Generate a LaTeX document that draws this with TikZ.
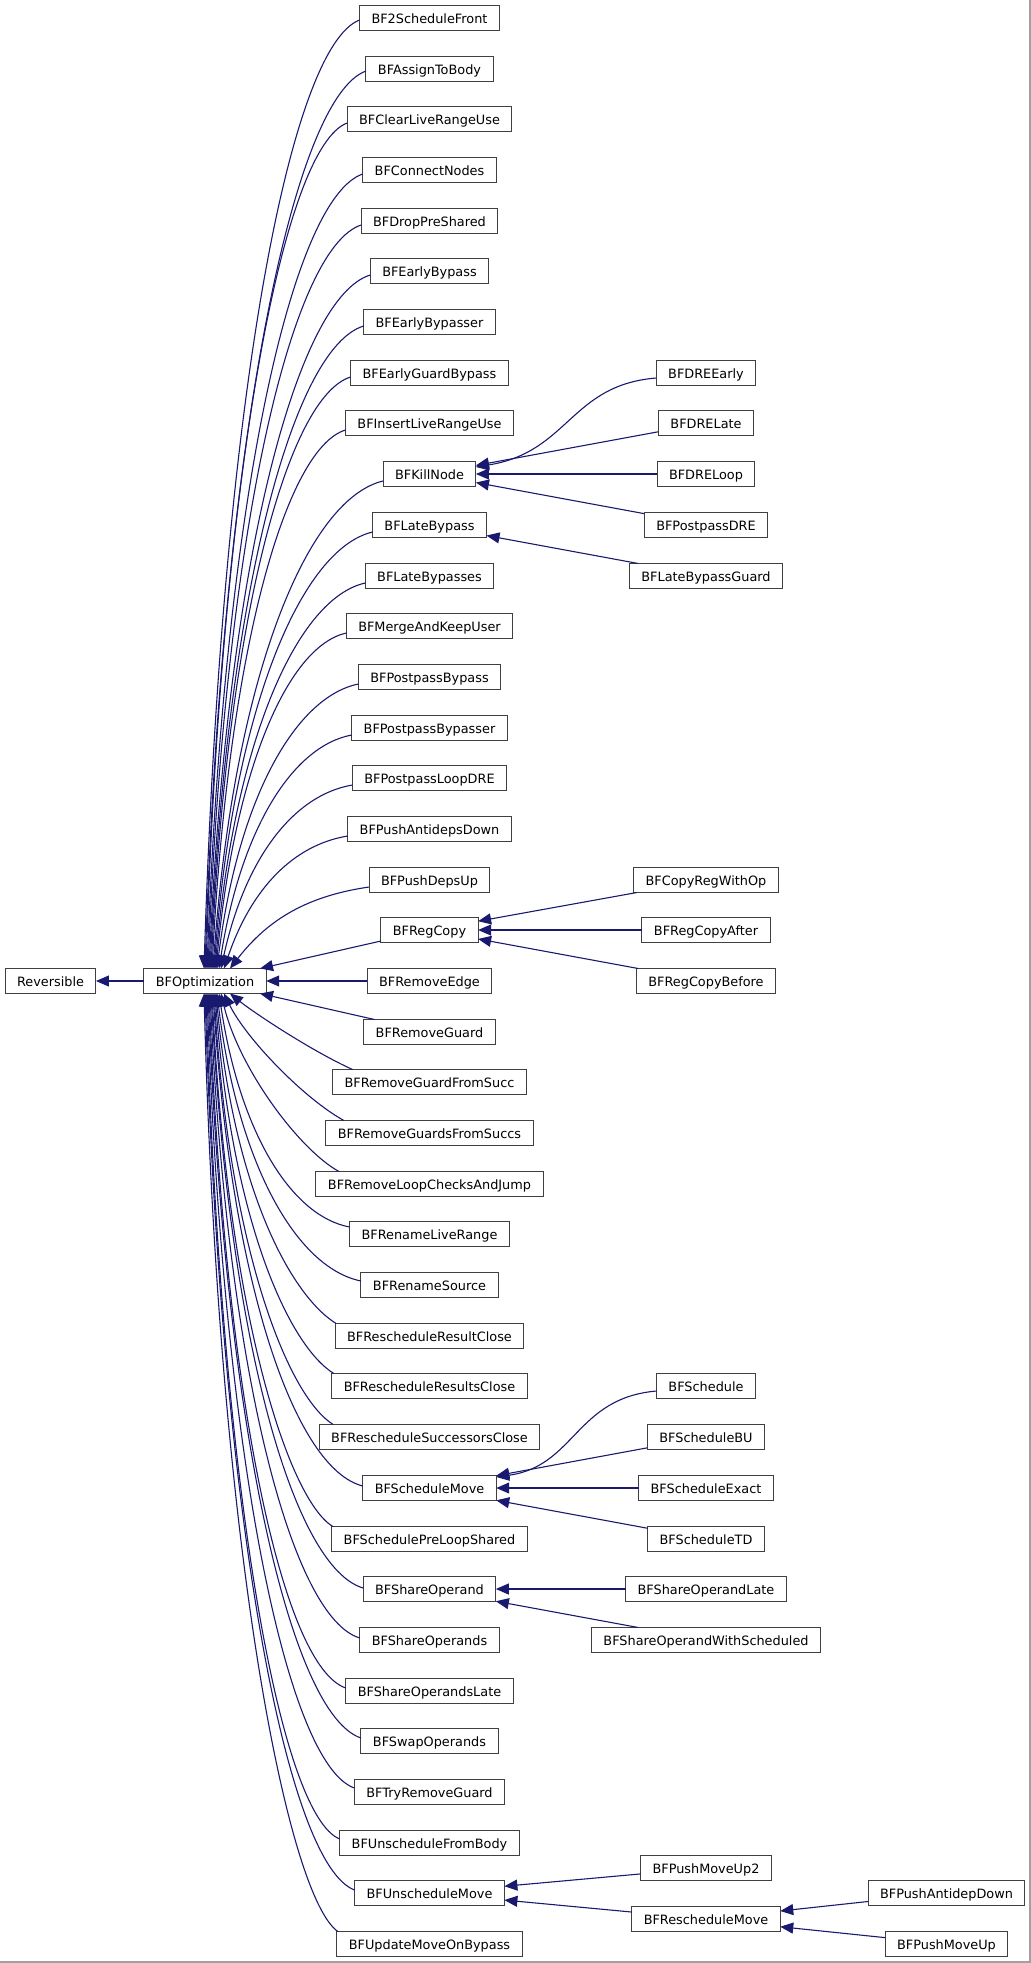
\documentclass[tikz,border=0pt]{standalone}
\usepackage{fontspec}
\setmainfont{DejaVu Sans}
\usetikzlibrary{arrows.meta,calc}
\definecolor{navyline}{HTML}{191970}
\definecolor{grey25}{HTML}{404040}
\definecolor{framegray}{HTML}{A0A0A0}
\tikzset{
  cls/.style={draw=grey25, fill=white, line width=1pt, inner xsep=12pt, inner ysep=0pt,
    minimum height=25pt, text height=13pt, text depth=3pt, outer sep=0pt,
    font=\fontsize{12.85}{15}\selectfont},
  inh/.style={draw=navyline, line width=1.1pt, -{Triangle[length=13pt,width=11pt]}, navyline}
}
\begin{document}
\begin{tikzpicture}[x=1pt,y=-1pt]
\useasboundingbox (0,0) rectangle (1031,1963);
\draw[framegray, line width=2pt] (1030,0) -- (1030,1962) -- (0,1962);

\node[cls] (rev) at (50.5,981) {Reversible};
\node[cls] (opt) at (205,981) {BFOptimization};

\node[cls] (schedFront) at (429.5,18) {BF2ScheduleFront};
\node[cls] (assignBody) at (429.5,69) {BFAssignToBody};
\node[cls] (clearLRU) at (429.5,119) {BFClearLiveRangeUse};
\node[cls] (connNodes) at (429.5,170) {BFConnectNodes};
\node[cls] (dropPre) at (429.5,221) {BFDropPreShared};
\node[cls] (earlyBp) at (429.5,271) {BFEarlyBypass};
\node[cls] (earlyBpr) at (429.5,322) {BFEarlyBypasser};
\node[cls] (earlyGuard) at (429.5,373) {BFEarlyGuardBypass};
\node[cls] (insertLRU) at (429.5,423) {BFInsertLiveRangeUse};
\node[cls] (killNode) at (429.5,474) {BFKillNode};
\node[cls] (lateBp) at (429.5,525) {BFLateBypass};
\node[cls] (lateBps) at (429.5,576) {BFLateBypasses};
\node[cls] (mergeKeep) at (429.5,626) {BFMergeAndKeepUser};
\node[cls] (ppBp) at (429.5,677) {BFPostpassBypass};
\node[cls] (ppBpr) at (429.5,728) {BFPostpassBypasser};
\node[cls] (ppLoopDRE) at (429.5,778) {BFPostpassLoopDRE};
\node[cls] (pushAnti) at (429.5,829) {BFPushAntidepsDown};
\node[cls] (pushDeps) at (429.5,880) {BFPushDepsUp};
\node[cls] (regCopy) at (429.5,930) {BFRegCopy};
\node[cls] (remEdge) at (429.5,981) {BFRemoveEdge};
\node[cls] (remGuard) at (429.5,1032) {BFRemoveGuard};
\node[cls] (remGuardSucc) at (429.5,1082) {BFRemoveGuardFromSucc};
\node[cls] (remGuardsSuccs) at (429.5,1133) {BFRemoveGuardsFromSuccs};
\node[cls] (remLoop) at (429.5,1184) {BFRemoveLoopChecksAndJump};
\node[cls] (renLR) at (429.5,1234) {BFRenameLiveRange};
\node[cls] (renSrc) at (429.5,1285) {BFRenameSource};
\node[cls] (reschedRes) at (429.5,1336) {BFRescheduleResultClose};
\node[cls] (reschedRess) at (429.5,1386) {BFRescheduleResultsClose};
\node[cls] (reschedSucc) at (429.5,1437) {BFRescheduleSuccessorsClose};
\node[cls] (schedMove) at (429.5,1488) {BFScheduleMove};
\node[cls] (schedPre) at (429.5,1539) {BFSchedulePreLoopShared};
\node[cls] (shareOp) at (429.5,1589) {BFShareOperand};
\node[cls] (shareOps) at (429.5,1640) {BFShareOperands};
\node[cls] (shareOpsLate) at (429.5,1691) {BFShareOperandsLate};
\node[cls] (swapOps) at (429.5,1741) {BFSwapOperands};
\node[cls] (tryRem) at (429.5,1792) {BFTryRemoveGuard};
\node[cls] (unschedBody) at (429.5,1843) {BFUnscheduleFromBody};
\node[cls] (unschedMove) at (429.5,1893) {BFUnscheduleMove};
\node[cls] (updMove) at (429.5,1944) {BFUpdateMoveOnBypass};

\node[cls] (dreEarly) at (706,373) {BFDREEarly};
\node[cls] (dreLate) at (706,423) {BFDRELate};
\node[cls] (dreLoop) at (706,474) {BFDRELoop};
\node[cls] (ppDRE) at (706,525) {BFPostpassDRE};
\node[cls] (lateBpGuard) at (706,576) {BFLateBypassGuard};
\node[cls] (copyRegOp) at (706,880) {BFCopyRegWithOp};
\node[cls] (regCopyAfter) at (706,930) {BFRegCopyAfter};
\node[cls] (regCopyBefore) at (706,981) {BFRegCopyBefore};
\node[cls] (sched) at (706,1386) {BFSchedule};
\node[cls] (schedBU) at (706,1437) {BFScheduleBU};
\node[cls] (schedExact) at (706,1488) {BFScheduleExact};
\node[cls] (schedTD) at (706,1539) {BFScheduleTD};
\node[cls] (shareOpLate) at (706,1589) {BFShareOperandLate};
\node[cls] (shareOpSched) at (706,1640) {BFShareOperandWithScheduled};
\node[cls] (pushMoveUp2) at (706,1868) {BFPushMoveUp2};
\node[cls] (reschedMove) at (706,1919) {BFRescheduleMove};
\node[cls] (pushAntiDown) at (946.5,1893) {BFPushAntidepDown};
\node[cls] (pushMoveUp) at (946.5,1944) {BFPushMoveUp};

\draw[inh] (opt) -- (rev);

\draw[inh] ($(schedFront.west)+(0,2)$) .. controls +(-70,27) and +(18,-569) .. ($(opt.north)+(-1,0)$);
\draw[inh] ($(assignBody.west)+(0,2)$) .. controls +(-72,26) and +(18,-538) .. ($(opt.north)+(0,0)$);
\draw[inh] ($(clearLRU.west)+(0,4)$) .. controls +(-63,24) and +(16,-507) .. ($(opt.north)+(1,0)$);
\draw[inh] ($(connNodes.west)+(0,4)$) .. controls +(-70,24) and +(18,-476) .. ($(opt.north)+(2,0)$);
\draw[inh] ($(dropPre.west)+(0,4)$) .. controls +(-69,23) and +(18,-446) .. ($(opt.north)+(3,0)$);
\draw[inh] ($(earlyBp.west)+(0,4)$) .. controls +(-72,22) and +(19,-416) .. ($(opt.north)+(4,0)$);
\draw[inh] ($(earlyBpr.west)+(0,4)$) .. controls +(-69,21) and +(18,-385) .. ($(opt.north)+(5,0)$);
\draw[inh] ($(earlyGuard.west)+(0,4)$) .. controls +(-62,19) and +(17,-355) .. ($(opt.north)+(6,0)$);
\draw[inh] ($(insertLRU.west)+(0,7)$) .. controls +(-59,18) and +(17,-323) .. ($(opt.north)+(7,0)$);
\draw[inh] ($(killNode.west)+(0,7)$) .. controls +(-76,18) and +(21,-292) .. ($(opt.north)+(8,0)$);
\draw[inh] ($(lateBp.west)+(0,7)$) .. controls +(-71,17) and +(20,-262) .. ($(opt.north)+(9,0)$);
\draw[inh] ($(lateBps.west)+(0,7)$) .. controls +(-67,15) and +(20,-232) .. ($(opt.north)+(10,0)$);
\draw[inh] ($(mergeKeep.west)+(0,7)$) .. controls +(-58,13) and +(19,-201) .. ($(opt.north)+(11,0)$);
\draw[inh] ($(ppBp.west)+(0,7)$) .. controls +(-63,13) and +(21,-170) .. ($(opt.north)+(12,0)$);
\draw[inh] ($(ppBpr.west)+(0,7)$) .. controls +(-59,11) and +(22,-140) .. ($(opt.north)+(14,0)$);
\draw[inh] ($(ppLoopDRE.west)+(0,7)$) .. controls +(-59,10) and +(24,-110) .. ($(opt.north)+(16,0)$);
\draw[inh] ($(pushAnti.west)+(0,7)$) .. controls +(-55,9) and +(27,-79) .. ($(opt.north)+(19,0)$);
\draw[inh] ($(pushDeps.west)+(0,7)$) .. controls +(-62,9) and +(38,-49) .. ($(opt.north)+(25,0)$);
\draw[inh] (regCopy) -- (opt);
\draw[inh] (remEdge) -- (opt);
\draw[inh] (remGuard) -- (opt);
\draw[inh] ($(remGuardSucc.north west)+(20,0)$) .. controls +(-40,-18) and +(25,20) .. ($(opt.south)+(25,0)$);
\draw[inh] ($(remGuardsSuccs.north west)+(18,0)$) .. controls +(-40,-22) and +(22,45) .. ($(opt.south)+(19,0)$);
\draw[inh] ($(remLoop.north west)+(23,0)$) .. controls +(-40,-22) and +(18,75) .. ($(opt.south)+(16,0)$);
\draw[inh] ($(renLR.west)+(0,-7)$) .. controls +(-58,-11) and +(21,140) .. ($(opt.south)+(14,0)$);
\draw[inh] ($(renSrc.west)+(0,-4)$) .. controls +(-64,-13) and +(21,172) .. ($(opt.south)+(12,0)$);
\draw[inh] ($(reschedRes.north west)+(1,0)$) .. controls +(-45,-28) and +(18,197) .. ($(opt.south)+(11,0)$);
\draw[inh] ($(reschedRess.north west)+(2,0)$) .. controls +(-45,-28) and +(17,228) .. ($(opt.south)+(10,0)$);
\draw[inh] ($(reschedSucc.north west)+(14,0)$) .. controls +(-45,-28) and +(16,258) .. ($(opt.south)+(9,0)$);
\draw[inh] ($(schedMove.west)+(0,-2)$) .. controls +(-67,-17) and +(19,295) .. ($(opt.south)+(8,0)$);
\draw[inh] ($(schedPre.north west)+(1,0)$) .. controls +(-45,-28) and +(16,319) .. ($(opt.south)+(7,0)$);
\draw[inh] ($(shareOp.west)+(0,-1)$) .. controls +(-68,-20) and +(19,356) .. ($(opt.south)+(6,0)$);
\draw[inh] ($(shareOps.west)+(0,-2)$) .. controls +(-67,-20) and +(18,386) .. ($(opt.south)+(5,0)$);
\draw[inh] ($(shareOpsLate.west)+(0,-3)$) .. controls +(-62,-21) and +(17,416) .. ($(opt.south)+(4,0)$);
\draw[inh] ($(swapOps.west)+(0,-3)$) .. controls +(-69,-23) and +(18,446) .. ($(opt.south)+(3,0)$);
\draw[inh] ($(tryRem.west)+(0,-4)$) .. controls +(-66,-23) and +(17,476) .. ($(opt.south)+(2,0)$);
\draw[inh] ($(unschedBody.west)+(0,-4)$) .. controls +(-59,-24) and +(16,507) .. ($(opt.south)+(1,0)$);
\draw[inh] ($(unschedMove.west)+(0,-3)$) .. controls +(-67,-25) and +(17,538) .. ($(opt.south)+(0,0)$);
\draw[inh] ($(updMove.north west)+(1,0)$) .. controls +(-50,-35) and +(15,562) .. ($(opt.south)+(-1,0)$);

\draw[inh] ($(dreEarly.west)+(0,5)$) .. controls +(-86,7) and +(93,-15) .. ($(killNode.east)+(0,-7)$);
\draw[inh] (dreLate) -- (killNode);
\draw[inh] (dreLoop) -- (killNode);
\draw[inh] (ppDRE) -- (killNode);
\draw[inh] (lateBpGuard) -- (lateBp);
\draw[inh] (copyRegOp) -- (regCopy);
\draw[inh] (regCopyAfter) -- (regCopy);
\draw[inh] (regCopyBefore) -- (regCopy);
\draw[inh] ($(sched.west)+(0,5)$) .. controls +(-81,7) and +(79,-11) .. ($(schedMove.east)+(0,-11)$);
\draw[inh] (schedBU) -- (schedMove);
\draw[inh] (schedExact) -- (schedMove);
\draw[inh] (schedTD) -- (schedMove);
\draw[inh] (shareOpLate) -- (shareOp);
\draw[inh] (shareOpSched) -- (shareOp);
\draw[inh] (pushMoveUp2) -- (unschedMove);
\draw[inh] (reschedMove) -- (unschedMove);
\draw[inh] (pushAntiDown) -- (reschedMove);
\draw[inh] (pushMoveUp) -- (reschedMove);
\end{tikzpicture}
\end{document}
